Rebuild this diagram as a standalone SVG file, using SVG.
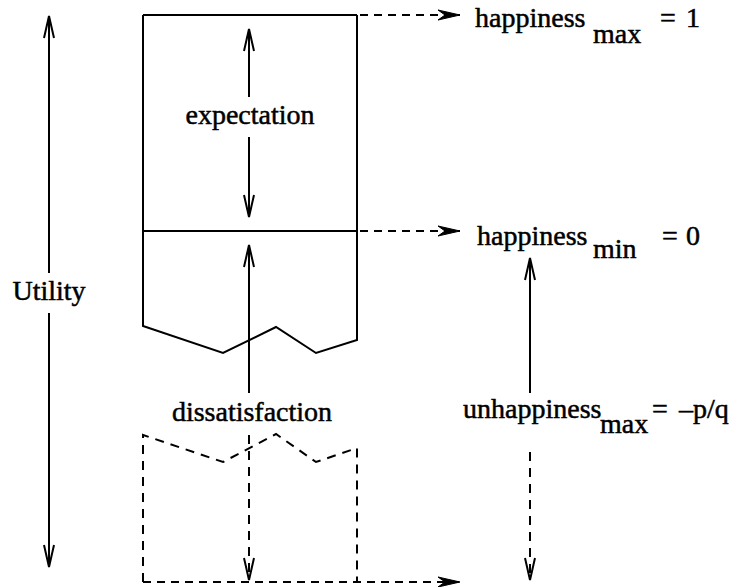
<svg xmlns="http://www.w3.org/2000/svg" width="742" height="587" viewBox="0 0 742 587">
<style>
  .ln { stroke: #000; stroke-width: 2; fill: none; }
  .dash { stroke: #000; stroke-width: 2; fill: none; stroke-dasharray: 9 7; }
  .hd { stroke-dasharray: 8 6; }
  .t { font-family: "Liberation Serif", "Times New Roman", serif; font-size: 28px; fill: #000; stroke: #000; stroke-width: 0.5; }
</style>
<defs>
  <marker id="vl" viewBox="-24 -7 26 14" markerWidth="26" markerHeight="14" refX="0" refY="0" orient="auto" markerUnits="userSpaceOnUse">
    <path d="M -22 -5 L 0 0 L -22 5" fill="none" stroke="#000" stroke-width="2"/>
  </marker>
  <marker id="st" viewBox="-24 -7 26 14" markerWidth="26" markerHeight="14" refX="0" refY="0" orient="auto" markerUnits="userSpaceOnUse">
    <path d="M 0 0 L -22 -5 L -15 0 L -22 5 Z" fill="#000" stroke="#000" stroke-width="1"/>
  </marker>
</defs>

<g id="box">
  <path class="ln" d="M 143 15 L 357 15 M 143 231 L 357 231 M 143 15 L 143 326 L 223 353 L 276 327 L 316 353 L 357 340 L 357 15"/>
</g>

<g id="dashed-box">
  <path class="dash" d="M 143 582 L 143 435 L 223 462 L 276 434 L 316 462 L 357 448 L 357 582"/>
</g>

<g id="label-utility"><text class="t" x="49" y="300" text-anchor="middle">Utility</text></g>
<g id="label-expectation"><text class="t" x="250" y="124" text-anchor="middle">expectation</text></g>
<g id="label-dissatisfaction"><text class="t" x="252" y="421" text-anchor="middle">dissatisfaction</text></g>
<g id="label-hmax"><text class="t" x="475" y="27">happiness</text><text class="t" x="593" y="43">max</text><text class="t" x="660" y="27">=</text><text class="t" x="686" y="27">1</text></g>
<g id="label-hmin"><text class="t" x="477" y="245">happiness</text><text class="t" x="593" y="258">min</text><text class="t" x="662" y="245">=</text><text class="t" x="686" y="245">0</text></g>
<g id="label-umax"><text class="t" x="463" y="418">unhappiness</text><text class="t" x="600" y="433">max</text><text class="t" x="652" y="418">=</text><text class="t" x="679" y="418">–p/q</text></g>

<g id="connectors">
  <line class="ln" x1="49" y1="273" x2="49" y2="16" marker-end="url(#vl)"/>
  <line class="ln" x1="49" y1="313" x2="49" y2="567" marker-end="url(#vl)"/>
  <line class="ln" x1="249" y1="97" x2="249" y2="29" marker-end="url(#vl)"/>
  <line class="ln" x1="249" y1="137" x2="249" y2="217" marker-end="url(#vl)"/>
  <line class="ln" x1="249" y1="393" x2="249" y2="245" marker-end="url(#vl)"/>
  <line class="dash" x1="249" y1="435" x2="249" y2="580" marker-end="url(#vl)"/>
  <line class="ln" x1="530" y1="393" x2="530" y2="258" marker-end="url(#vl)"/>
  <line class="dash" x1="530" y1="452" x2="530" y2="580" marker-end="url(#vl)"/>
  <line class="dash hd" x1="360" y1="15" x2="460" y2="15" marker-end="url(#st)"/>
  <line class="dash hd" x1="360" y1="231" x2="460" y2="231" marker-end="url(#st)"/>
  <line class="dash hd" x1="143" y1="582" x2="460" y2="582" marker-end="url(#st)"/>
</g>
</svg>
